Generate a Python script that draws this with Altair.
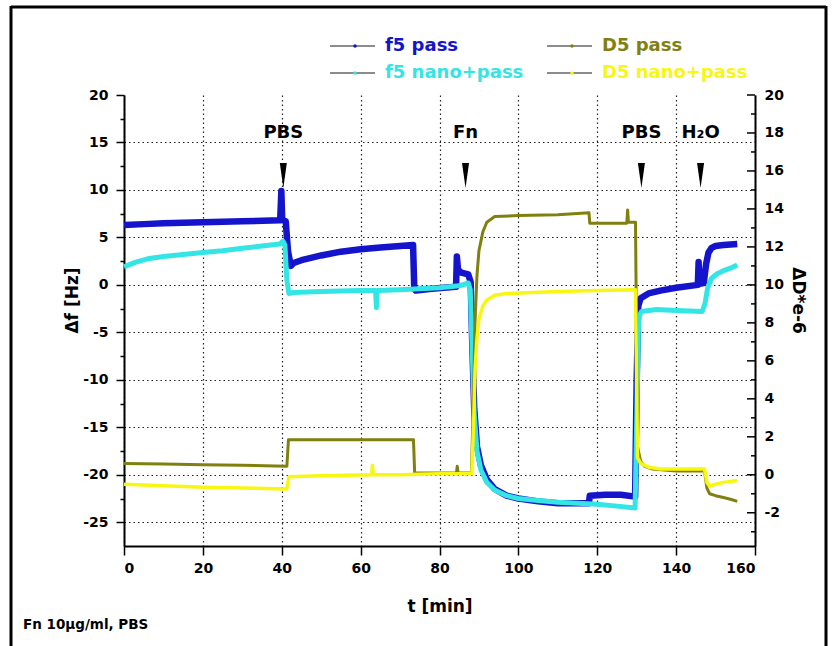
import altair as alt
import pandas as pd

# ---------------- data ----------------
# f5 pass (left axis, Hz)
f5_pass_t = [0, 5, 10, 20, 30, 39.6, 39.9, 40.1, 40.4, 41.0, 41.6, 42.3, 43, 45, 50, 55, 60, 65, 70,
             73.3, 73.6, 74, 78, 84.2, 84.4, 84.7, 85.5, 87.3, 87.9, 88.3, 88.8, 89.5, 90.5, 92, 94, 97,
             100, 105, 110, 117.9, 118.1, 122, 126, 129.6, 130.0, 130.4, 131, 133, 136, 140, 145.5,
             145.7, 145.9, 147.0, 147.6, 148.2, 149, 150, 152, 155.5]
f5_pass_v = [6.3, 6.4, 6.5, 6.6, 6.7, 6.8, 9.9, 7.0, 6.8, 6.7, 3.5, 2.0, 2.3, 2.6, 3.1, 3.5, 3.75, 3.95, 4.1,
             4.2, -0.4, -0.6, -0.4, -0.2, 3.0, 1.6, 1.3, 1.1, 0.3, -6.0, -13.0, -17.0, -19.0, -20.5, -21.5, -22.2,
             -22.5, -22.8, -23.0, -23.0, -22.2, -22.1, -22.1, -22.3, -10.0, -2.2, -1.4, -0.9, -0.6, -0.3, 0.0,
             2.4, 0.1, 0.2, 2.2, 3.4, 3.9, 4.1, 4.2, 4.3]

# f5 nano+pass (left axis, Hz)
f5_nano_t = [0, 3, 6, 10, 15, 20, 25, 30, 35, 39.5, 40.3, 40.8, 41.3, 41.8, 43, 50, 60, 63.8, 64.0, 64.2,
             70, 75, 80, 85, 87.3, 87.8, 88.3, 88.8, 89.5, 90.5, 92, 94, 97, 100, 105, 110, 115, 120, 125,
             129.6, 130.1, 130.5, 131.2, 135, 140, 146.6, 147.3, 148, 149, 150.5, 152, 154, 155.5]
f5_nano_v = [1.9, 2.4, 2.75, 3.0, 3.2, 3.4, 3.6, 3.85, 4.1, 4.3, 4.6, 4.2, 0.5, -0.9, -0.8, -0.7, -0.6, -0.6,
             -2.4, -0.6, -0.5, -0.4, -0.3, -0.1, 0.2, -0.5, -7.0, -13.5, -17.5, -19.5, -20.8, -21.6, -22.2,
             -22.5, -22.7, -22.9, -23.0, -23.1, -23.3, -23.5, -12.0, -3.4, -2.8, -2.6, -2.7, -2.8, -2.0, -0.3,
             0.7, 1.2, 1.5, 1.8, 2.1]

# D5 pass (right axis, 1e-6)
d5_pass_t = [0, 10, 20, 30, 41.3, 41.7, 50, 60, 73.4, 73.7, 80, 84.3, 84.5, 84.7, 88.1, 88.6, 89, 89.5, 90,
             91, 92, 94, 100, 110, 117.9, 118.1, 127.5, 127.7, 127.9, 129.7, 130.2, 131, 132, 134, 140,
             147.2, 147.8, 148.5, 150, 152, 154, 155.5]
d5_pass_v = [0.6, 0.57, 0.53, 0.5, 0.45, 1.85, 1.85, 1.85, 1.85, 0.1, 0.1, 0.1, 0.45, 0.1, 0.1, 4.0, 8.0,
             10.5, 11.8, 12.8, 13.3, 13.6, 13.65, 13.7, 13.8, 13.25, 13.25, 13.95, 13.3, 13.3, 1.5, 0.7,
             0.45, 0.3, 0.2, 0.2, -0.7, -1.0, -1.1, -1.2, -1.3, -1.4]

# D5 nano+pass (right axis, 1e-6)
d5_nano_t = [0, 10, 20, 30, 41.3, 41.8, 50, 62.8, 63.0, 63.2, 70, 80, 88.2, 88.7, 89, 89.5, 90, 91, 92, 94,
             97, 110, 120, 129.7, 130.2, 131, 133, 136, 147.2, 147.8, 148.5, 150, 152, 155.5]
d5_nano_v = [-0.5, -0.58, -0.65, -0.7, -0.75, -0.1, -0.05, 0.0, 0.5, 0.0, 0.0, 0.05, 0.05, 3.0, 5.5, 7.2,
             8.2, 8.9, 9.2, 9.45, 9.55, 9.65, 9.7, 9.75, 0.9, 0.6, 0.4, 0.3, 0.3, -0.4, -0.6, -0.5, -0.4,
             -0.3]

series_names = ["f5 pass", "f5 nano+pass", "D5 pass", "D5 nano+pass"]
series_colors = ["#1414cc", "#33e5e5", "#80800f", "#f7f711"]

event_t = [40.4, 86.6, 131.2, 146.2]
event_label = ["PBS", "Fn", "PBS", "H\u2082O"]

x_ticks = [0, 10, 20, 30, 40, 50, 60, 70, 80, 90, 100, 110, 120, 130, 140, 150, 160]
left_ticks = [-25, -22.5, -20, -17.5, -15, -12.5, -10, -7.5, -5, -2.5, 0, 2.5, 5, 7.5, 10, 12.5, 15, 17.5, 20]
right_major = [-2, 0, 2, 4, 6, 8, 10, 12, 14, 16, 18, 20]
right_minor = [-3, -1, 1, 3, 5, 7, 9, 11, 13, 15, 17, 19]

# ---------------- chart ----------------
W, H = 631, 451
FONT = "DejaVu Sans"
MINUS = "replace(datum.label, '\u2212', '-')"

def mk(t, v, name):
    return pd.DataFrame({"t": t, "v": v, "s": name})

df_f5p = mk(f5_pass_t, f5_pass_v, series_names[0])
df_f5n = mk(f5_nano_t, f5_nano_v, series_names[1])
df_d5p = mk(d5_pass_t, d5_pass_v, series_names[2])
df_d5n = mk(d5_nano_t, d5_nano_v, series_names[3])

xscale = alt.Scale(domain=[0, 160], nice=False, zero=False)
lscale = alt.Scale(domain=[-27.5, 20], nice=False, zero=False)
rscale = alt.Scale(domain=[-3.75, 20], nice=False, zero=False)

x_axis = alt.Axis(
    values=x_ticks, title="t [min]", labelExpr="datum.value % 20 === 0 ? datum.label : ''",
    tickSize={"condition": {"test": "datum.value % 20 === 0", "value": 9}, "value": 4},
    grid=True, gridDash=[1.5, 3], gridColor="#222", gridWidth=1.2,
    gridOpacity={"condition": {"test": "datum.value % 20 === 0", "value": 1}, "value": 0},
    labelFont=FONT, labelFontSize=14, labelFontWeight="bold", labelColor="black", labelPadding=6,
    titleFont=FONT, titleFontSize=17, titleFontWeight="bold", titleColor="black",
    titleY=60, titleBaseline="middle",
    domainColor="black", domainWidth=2, tickColor="black", tickWidth=1.5,
)
l_axis = alt.Axis(
    values=left_ticks, title="\u0394f [Hz]",
    labelExpr="datum.value % 5 === 0 ? " + MINUS + " : ''",
    tickSize={"condition": {"test": "datum.value % 5 === 0", "value": 8}, "value": 4},
    grid=True, gridDash=[1.5, 3], gridColor="#222", gridWidth=1.2,
    gridOpacity={"condition": {"test": "datum.value % 5 === 0 && datum.value < 20", "value": 1}, "value": 0},
    labelFont=FONT, labelFontSize=14, labelFontWeight="bold", labelColor="black", labelPadding=8,
    titleFont=FONT, titleFontSize=17, titleFontWeight="bold", titleColor="black",
    titleAngle=270, titleX=-52, titleY=205, titleAlign="center", titleBaseline="middle",
    domainColor="black", domainWidth=2, tickColor="black", tickWidth=1.5,
)
r_axis = alt.Axis(
    orient="right", values=right_major, title="\u0394D*e-6", ticks=False, grid=False,
    labelExpr=MINUS,
    labelFont=FONT, labelFontSize=14, labelFontWeight="bold", labelColor="black", labelPadding=9,
    titleFont=FONT, titleFontSize=17, titleFontWeight="bold", titleColor="black",
    titleAngle=90, titleX=42, titleY=205, titleAlign="center", titleBaseline="middle",
    domainColor="black", domainWidth=2,
)

X = alt.X("t:Q", scale=xscale, axis=x_axis)
XL = alt.X("t:Q", scale=xscale)
YL = alt.Y("v:Q", scale=lscale, axis=l_axis)
YR = alt.Y("v:Q", scale=rscale, axis=r_axis)

def series_line(df, color, width, xenc, yenc):
    return alt.Chart(df).mark_line(color=color, strokeWidth=width, strokeJoin="round").encode(x=xenc, y=yenc)

blue = series_line(df_f5p, series_colors[0], 6.5, X, YL)
cyan = series_line(df_f5n, series_colors[1], 5, XL, YL)
olive = series_line(df_d5p, series_colors[2], 3, XL, YR)
yellow = series_line(df_d5n, series_colors[3], 3.5, XL, YR)

# inward ticks of the right axis
rt_major = alt.Chart(pd.DataFrame({"v": right_major})).mark_rule(color="black", strokeWidth=1.5).encode(
    y=YR, x=alt.value(W - 8), x2=alt.value(W))
rt_minor = alt.Chart(pd.DataFrame({"v": right_minor})).mark_rule(color="black", strokeWidth=1.5).encode(
    y=YR, x=alt.value(W - 4), x2=alt.value(W))

# event annotations
ev_df = pd.DataFrame({"t": event_t, "label": event_label})
ev_text = alt.Chart(ev_df).mark_text(font=FONT, fontSize=18, fontWeight="bold", color="black",
                                     align="center", baseline="alphabetic").encode(
    x=XL, y=alt.value(43), text="label:N")
ev_arrow = alt.Chart(ev_df).mark_point(shape="M-0.28,-1L0.28,-1L0,1Z", size=625, filled=True,
                                       color="black", opacity=1).encode(x=XL, y=alt.value(80.5))

# manual legend (grey line with a small coloured dot, coloured bold label)
one = pd.DataFrame({"a": [0]})
legend_layers = []
leg_pos = [(206, -49), (206, -22), (423, -49), (423, -22)]
for name, col, (lx, ly) in zip(series_names, series_colors, leg_pos):
    legend_layers.append(alt.Chart(one).mark_rule(color="#666", strokeWidth=1.5).encode(
        x=alt.value(lx), x2=alt.value(lx + 45), y=alt.value(ly)))
    legend_layers.append(alt.Chart(one).mark_point(filled=True, size=12, color=col, opacity=1).encode(
        x=alt.value(lx + 25), y=alt.value(ly)))
    legend_layers.append(alt.Chart(one).mark_text(text=name, font=FONT, fontSize=18, fontWeight="bold",
                                                  color=col, align="left", baseline="middle").encode(
        x=alt.value(lx + 55), y=alt.value(ly)))

# outer frame of the figure and footnote
frame = [
    alt.Chart(one).mark_rule(color="black", strokeWidth=3).encode(
        x=alt.value(-113), x2=alt.value(702), y=alt.value(-88)),
    alt.Chart(one).mark_rule(color="black", strokeWidth=3).encode(
        x=alt.value(-113), y=alt.value(-89), y2=alt.value(560)),
    alt.Chart(one).mark_rule(color="black", strokeWidth=3).encode(
        x=alt.value(702), y=alt.value(-89), y2=alt.value(560)),
]
footnote = alt.Chart(one).mark_text(text="Fn 10\u00b5g/ml, PBS", font=FONT, fontSize=13.5,
                                    fontWeight="bold", color="black", align="left",
                                    baseline="middle").encode(x=alt.value(-101), y=alt.value(530))

left = alt.layer(blue, cyan, ev_text, ev_arrow, footnote, *legend_layers, *frame)
right = alt.layer(olive, yellow, rt_major, rt_minor)

chart = alt.layer(left, right).resolve_scale(y="independent").properties(
    width=W, height=H,
    padding={"left": 124, "top": 95, "right": 82, "bottom": 100},
    autosize=alt.AutoSizeParams(type="none"),
    background="white",
).configure_view(stroke=None)

chart.save("out.html", embed_options={"renderer": "svg", "actions": False})
